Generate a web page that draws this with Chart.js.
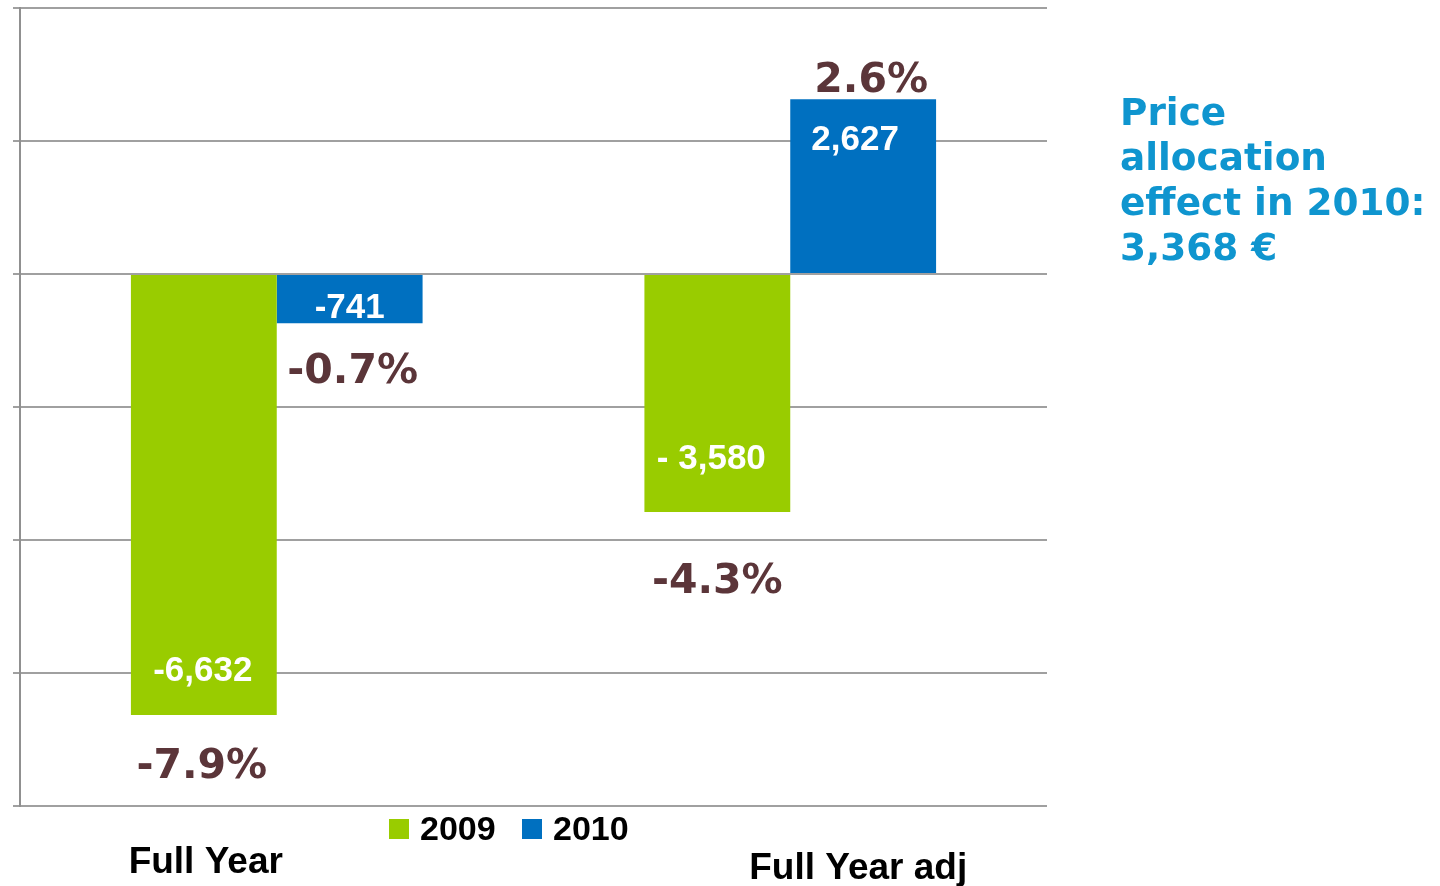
<!DOCTYPE html>
<html>
<head>
<meta charset="utf-8">
<script src="https://cdn.jsdelivr.net/npm/chart.js@4"></script>
<style>
  html, body { margin: 0; padding: 0; background: #ffffff; }
  #wrap { position: relative; width: 1440px; height: 886px; }
</style>
</head>
<body>
<div id="wrap"><canvas id="c" width="1440" height="886"></canvas></div>
<script>
// ---- data ----
const categories = ["Full Year", "Full Year adj"];
const seriesNames = ["2009", "2010"];
const values2009 = [-6632, -3580];
const values2010 = [-741, 2627];
const valueLabels2009 = ["-6,632", "- 3,580"];
const valueLabels2010 = ["-741", "2,627"];
const pctLabels2009 = ["-7.9%", "-4.3%"];
const pctLabels2010 = ["-0.7%", "2.6%"];
const annotationLines = ["Price", "allocation", "effect in 2010:", "3,368 \u20AC"];
const yMin = -8000, yMax = 4000, yStep = 2000;

// ---- styles ----
const GREEN = "#99cc00", BLUE = "#0070c0", BROWN = "#5b3539", ANNO = "#0f95cf";
const ARIAL = "'Liberation Sans', Arial, sans-serif";
const VERDANA = "'DejaVu Sans', Verdana, sans-serif";
// label nudges relative to bar ends [dataset][index] : {dx, dy}
const valueNudge = [[{dx:-1, dy:-34}, {dx:-6, dy:-43}], [{dx:0, dy:-5}, {dx:-8, dy:51}]];
const pctNudge = [[{dx:-2, dy:63}, {dx:0, dy:81}], [{dx:3, dy:60}, {dx:8, dy:-7}]];

const labelPlugin = {
  id: "labels",
  afterDatasetsDraw(chart) {
    const ctx = chart.ctx;
    const valueSets = [valueLabels2009, valueLabels2010];
    const pctSets = [pctLabels2009, pctLabels2010];
    ctx.save();
    ctx.textAlign = "center";
    ctx.textBaseline = "alphabetic";
    for (let d = 0; d < 2; d++) {
      const meta = chart.getDatasetMeta(d);
      meta.data.forEach((bar, i) => {
        const end = bar.y; // value end of bar
        ctx.fillStyle = "#ffffff";
        ctx.font = "bold 35px " + ARIAL;
        const vn = valueNudge[d][i];
        ctx.fillText(valueSets[d][i], bar.x + vn.dx, end + vn.dy);
        ctx.fillStyle = BROWN;
        ctx.font = "bold 41px " + VERDANA;
        const pn = pctNudge[d][i];
        ctx.fillText(pctSets[d][i], bar.x + pn.dx, end + pn.dy);
      });
    }
    // category labels
    const xs = chart.scales.x;
    ctx.fillStyle = "#000000";
    ctx.font = "bold 37px " + ARIAL;
    ctx.fillText(categories[0], xs.getPixelForValue(0) - 71, 873);
    ctx.fillText(categories[1], xs.getPixelForValue(1) + 68, 879);
    // legend
    const colors = [GREEN, BLUE];
    const lx = [389, 522];
    ctx.textAlign = "left";
    ctx.font = "bold 34px " + ARIAL;
    for (let k = 0; k < 2; k++) {
      ctx.fillStyle = colors[k];
      ctx.fillRect(lx[k], 819, 20, 20);
      ctx.fillStyle = "#000000";
      ctx.fillText(seriesNames[k], lx[k] + 31, 840);
    }
    // annotation
    ctx.fillStyle = ANNO;
    ctx.font = "bold 37.4px " + VERDANA;
    annotationLines.forEach((t, j) => ctx.fillText(t, 1120, 125 + j * 45));
    ctx.restore();
  }
};

new Chart(document.getElementById("c"), {
  type: "bar",
  data: {
    labels: categories,
    datasets: [
      { label: seriesNames[0], data: values2009, backgroundColor: GREEN, borderWidth: 0,
        barPercentage: 1.0, categoryPercentage: 0.568 },
      { label: seriesNames[1], data: values2010, backgroundColor: BLUE, borderWidth: 0,
        barPercentage: 1.0, categoryPercentage: 0.568 }
    ]
  },
  options: {
    responsive: false,
    devicePixelRatio: 1,
    animation: false,
    layout: { padding: { left: 0, top: 8, right: 393, bottom: 0 } },
    plugins: { legend: { display: false }, tooltip: { enabled: false } },
    scales: {
      x: {
        grid: { display: false },
        border: { display: false },
        ticks: { display: false },
        afterFit(s) { s.height = 80; }
      },
      y: {
        min: yMin, max: yMax,
        ticks: { display: false, stepSize: yStep },
        grid: { color: "#a0a0a0", lineWidth: 2, drawTicks: true, tickLength: 7 },
        border: { display: true, color: "#909090", width: 2 },
        afterFit(s) { s.width = 20; }
      }
    }
  },
  plugins: [labelPlugin]
});
</script>
</body>
</html>
